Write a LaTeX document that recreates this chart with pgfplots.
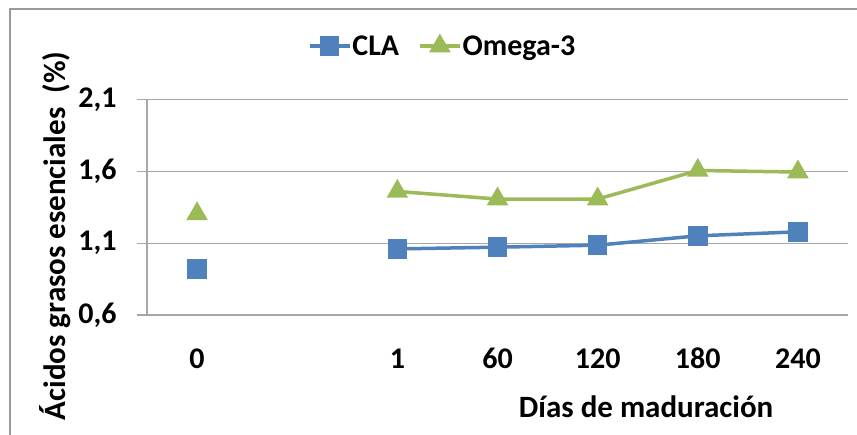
\documentclass[border=0pt]{standalone}
\usepackage{fontspec}
\setmainfont{Carlito}
\usepackage{pgfplots}
\pgfplotsset{compat=1.18}
\definecolor{clablue}{HTML}{4F81BD}
\definecolor{omgreen}{HTML}{9BBB59}
\definecolor{gridgray}{HTML}{A6A6A6}
\definecolor{framegray}{HTML}{9A9A9A}
\begin{document}
\begin{tikzpicture}[x=1pt,y=1pt]
\useasboundingbox (0,0) rectangle (857,434);
\draw[framegray,line width=1.5pt] (10,-5) -- (10,425) -- (862,425);
\begin{axis}[
  at={(147pt,119pt)}, anchor=south west,
  scale only axis, width=701pt, height=215.5pt,
  xmin=-0.5, xmax=6.5, ymin=0.6, ymax=2.1,
  xtick={0,2,3,4,5,6}, xticklabels={0,1,60,120,180,240},
  ytick={0.6,1.1,1.6,2.1}, yticklabels={{0,6},{1,1},{1,6},{2,1}},
  axis x line*=bottom, axis y line*=left,
  x axis line style={draw=none},
  y axis line style={gridgray, line width=1.2pt, -},
  xtick style={draw=none},
  ytick style={gridgray, line width=1.2pt},
  tick align=outside, major tick length=10pt,
  ymajorgrids, grid style={gridgray, line width=1.2pt},
  ticklabel style={font=\fontsize{30}{34}\selectfont\bfseries},
  xticklabel style={anchor=base, yshift=-43pt},
  yticklabel style={anchor=east, xshift=-17pt},
  unbounded coords=jump,
  xlabel={Días de maduración},
  ylabel={Ácidos grasos esenciales\ \ (\%)},
  label style={font=\fontsize{31}{35}\selectfont\bfseries},
  xlabel style={at={(axis description cs:0.712,-0.427)}, anchor=center},
  ylabel style={at={(axis description cs:-0.131,0.367)}, anchor=center},
  legend columns=2,
  legend style={draw=none, fill=none, at={(axis description cs:0.421,1.248)}, anchor=center,
    font=\fontsize{30}{34}\selectfont\bfseries,
    nodes={inner sep=1pt},
    /tikz/every even column/.append style={column sep=18pt}},
  legend image code/.code={\draw[mark repeat=2,mark phase=2] plot coordinates {(0pt,0pt)(20pt,0pt)(40pt,0pt)};},
  clip=false,
]
\addplot[clablue, line width=3.5pt, mark=square*, mark size=8pt, mark options={solid}]
  coordinates {(0,0.919) (1,nan) (2,1.060) (3,1.072) (4,1.086) (5,1.151) (6,1.179)};
\addlegendentry{CLA}
\addplot[omgreen, line width=3.5pt, mark=triangle*, mark size=9pt, mark options={solid}]
  coordinates {(0,1.304) (1,nan) (2,1.460) (3,1.407) (4,1.407) (5,1.606) (6,1.595)};
\addlegendentry{Omega-3}
\end{axis}
\end{tikzpicture}
\end{document}
